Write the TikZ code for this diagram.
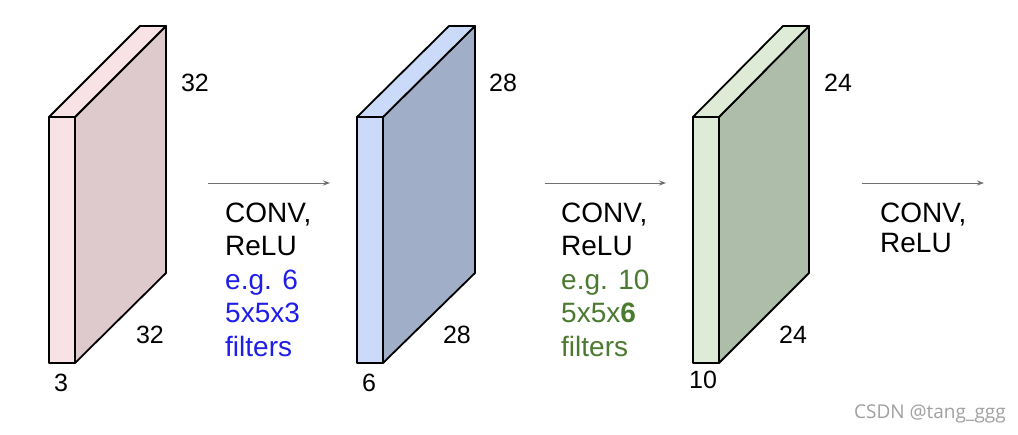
\documentclass[tikz,border=0pt]{standalone}
\usepackage{fontspec}
\setmainfont{Liberation Sans}
\newfontfamily\wmfont{Open Sans}
\usetikzlibrary{arrows.meta}
\definecolor{pinkF}{HTML}{F8E2E5}
\definecolor{pinkS}{HTML}{DEC9CC}
\definecolor{blueF}{HTML}{CADAF8}
\definecolor{blueS}{HTML}{A1AEC8}
\definecolor{greenF}{HTML}{DDEBD7}
\definecolor{greenS}{HTML}{AEBDA9}
\definecolor{txtblue}{HTML}{1E1EE8}
\definecolor{txtgreen}{HTML}{4B7A30}
\definecolor{arrgray}{HTML}{707070}
\definecolor{wmgray}{HTML}{A0A0A0}
\tikzset{
  face/.style={draw=black, line width=1.8pt, line join=round},
  dimlabel/.style={font=\fontsize{25}{28}\selectfont, inner sep=0pt},
  convtext/.style={font=\fontsize{28}{33.5}\selectfont, align=left, anchor=base west, inner sep=0pt},
  flow/.style={draw=arrgray, line width=0.9pt, -{Stealth[length=7pt,width=5pt]}}
}
\newcommand{\slab}[6]{% x-left, front width, fill front, fill side, name, back dx
  \coordinate (#5fl) at (#1,117);
  \coordinate (#5fr) at (#1+#2,117);
  \coordinate (#5bl) at (#1+#2,363);
  \coordinate (#5ll) at (#1,363);
  \coordinate (#5tl) at (#1+#6,26);
  \coordinate (#5tr) at (#1+#2+#6,26);
  \coordinate (#5br) at (#1+#2+#6,273);
  \filldraw[face, fill=#4] (#5fr) -- (#5tr) -- (#5br) -- (#5bl) -- cycle;
  \filldraw[face, fill=#3] (#5fl) -- (#5tl) -- (#5tr) -- (#5fr) -- cycle;
  \filldraw[face, fill=#3] (#5fl) -- (#5fr) -- (#5bl) -- (#5ll) -- cycle;
}
\begin{document}
\begin{tikzpicture}[x=1pt,y=-1pt]
\useasboundingbox[fill=white] (0,0) rectangle (1018,434);

\slab{49}{26}{pinkF}{pinkS}{a}{91}
\slab{357}{26}{blueF}{blueS}{b}{92}
\slab{693}{26}{greenF}{greenS}{c}{90}

\node[dimlabel] (a1) at (195,83) {32};
\node[dimlabel] (a2) at (150,335) {32};
\node[dimlabel] (a3) at (61,383) {3};
\node[dimlabel] (b1) at (503,83) {28};
\node[dimlabel] (b2) at (457,335) {28};
\node[dimlabel] (b3) at (369,383) {6};
\node[dimlabel] (c1) at (838,83) {24};
\node[dimlabel] (c2) at (793,335) {24};
\node[dimlabel] (c3) at (703,380) {10};

\coordinate (s1) at (208,183); \coordinate (e1) at (330,183);
\coordinate (s2) at (545,183); \coordinate (e2) at (666,183);
\coordinate (s3) at (862,183); \coordinate (e3) at (984,183);
\draw[flow] (s1) -- (e1);
\draw[flow] (s2) -- (e2);
\draw[flow] (s3) -- (e3);

\node[convtext] (t1) at (225,356) {CONV,\\ReLU\\\textcolor{txtblue}{e.g. 6}\\\textcolor{txtblue}{5x5x3}\\\textcolor{txtblue}{filters}};
\node[convtext] (t2) at (561,356) {CONV,\\ReLU\\\textcolor{txtgreen}{e.g. 10}\\\textcolor{txtgreen}{5x5x\textbf{6}}\\\textcolor{txtgreen}{filters}};
\node[convtext, font=\fontsize{28}{30}\selectfont] (t3) at (880,252) {CONV,\\ReLU};

\node[font=\wmfont\fontsize{19}{22}\selectfont, text=wmgray, anchor=base east, inner sep=0pt] (wm) at (1006,418) {CSDN @tang\_ggg};
\end{tikzpicture}
\end{document}
